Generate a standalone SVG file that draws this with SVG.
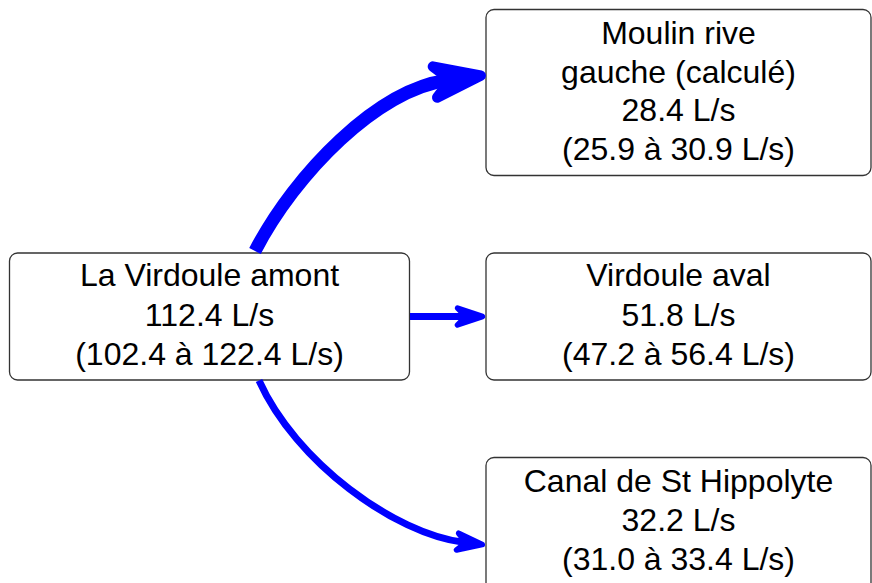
<svg xmlns="http://www.w3.org/2000/svg" width="872" height="583" viewBox="0 0 872 583">
<style>
.box{fill:#fff;stroke:#333;stroke-width:1.3}
.t{font-family:"Liberation Sans",Arial,Helvetica,sans-serif;font-size:32px;fill:#000;text-anchor:middle}
.c{fill:none;stroke:#00f;stroke-linecap:butt}
</style>
<defs>
<marker id="ah" markerUnits="strokeWidth" markerWidth="10" markerHeight="10" refX="0" refY="0" orient="auto" overflow="visible" viewBox="-5 -5 10 10">
<path d="M2.7,0 L-0.85,-1.2 L0.35,0 L-0.85,1.2 Z" fill="#00f" stroke="#00f" stroke-width="0.8" stroke-linejoin="round"/>
</marker>
</defs>
<g id="n_amont">
<rect class="box" x="9.5" y="253" width="400" height="127" rx="8"/>
<text class="t" x="209.5" y="286">La Virdoule amont</text>
<text class="t" x="209.5" y="325.5">112.4 L/s</text>
<text class="t" x="209.5" y="364.5">(102.4 à 122.4 L/s)</text>
</g>
<g id="n_moulin">
<rect class="box" x="486" y="9.5" width="385" height="166" rx="8"/>
<text class="t" x="678.5" y="43.5">Moulin rive</text>
<text class="t" x="678.5" y="82.5">gauche (calculé)</text>
<text class="t" x="678.5" y="120.5">28.4 L/s</text>
<text class="t" x="678.5" y="159.5">(25.9 à 30.9 L/s)</text>
</g>
<g id="n_aval">
<rect class="box" x="486" y="253" width="385" height="127" rx="8"/>
<text class="t" x="678.5" y="286">Virdoule aval</text>
<text class="t" x="678.5" y="325.5">51.8 L/s</text>
<text class="t" x="678.5" y="364.5">(47.2 à 56.4 L/s)</text>
</g>
<g id="n_canal">
<rect class="box" x="486" y="457.5" width="385" height="140" rx="8"/>
<text class="t" x="678.5" y="491.5">Canal de St Hippolyte</text>
<text class="t" x="678.5" y="530.5">32.2 L/s</text>
<text class="t" x="678.5" y="569.5">(31.0 à 33.4 L/s)</text>
</g>
<g id="connectors">
<path class="c" stroke-width="13" marker-end="url(#ah)" d="M255,251 C296,172 378,90 446,80.5"/>
<path class="c" stroke-width="7" marker-end="url(#ah)" d="M410,316.5 L463.5,316.5"/>
<path class="c" stroke-width="7" marker-end="url(#ah)" d="M259,380.5 C295.6,462 394.6,533.8 463.5,542.3"/>
</g>
</svg>
